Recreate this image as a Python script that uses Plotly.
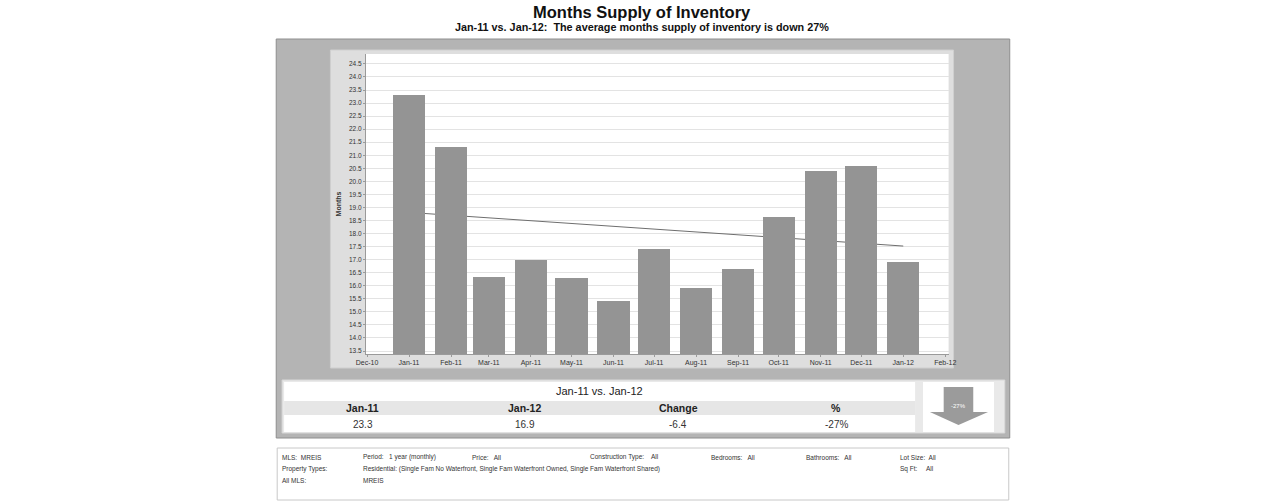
import numpy as np
import plotly.graph_objects as go

W, H = 1280, 503

# ---- data ----
months = ["2011-01-01", "2011-02-01", "2011-03-01", "2011-04-01", "2011-05-01", "2011-06-01",
          "2011-07-01", "2011-08-01", "2011-09-01", "2011-10-01", "2011-11-01", "2011-12-01",
          "2012-01-01"]
supply = [23.3, 21.3, 16.35, 17.0, 16.3, 15.4, 17.4, 15.9, 16.65, 18.65, 20.4, 20.6, 16.9]

tick_dates = ["2010-12-01"] + months + ["2012-02-01"]
tick_labels = ["Dec-10", "Jan-11", "Feb-11", "Mar-11", "Apr-11", "May-11", "Jun-11", "Jul-11",
               "Aug-11", "Sep-11", "Oct-11", "Nov-11", "Dec-11", "Jan-12", "Feb-12"]

y_ticks = [13.5 + 0.5 * i for i in range(23)]

cmp_headers = ["Jan-11", "Jan-12", "Change", "%"]
cmp_values = ["23.3", "16.9", "-6.4", "-27%"]
pct_change = "-27%"

footer_rows = [
    [("MLS:  MREIS", 274), ("Period:   1 year (monthly)", 356), ("Price:   All", 467),
     ("Construction Type:    All", 586), ("Bedrooms:   All", 709), ("Bathrooms:   All", 805),
     ("Lot Size:  All", 901)],
    [("Property Types:", 274),
     ("Residential: (Single Fam No Waterfront, Single Fam Waterfront Owned, Single Fam Waterfront Shared)", 356),
     ("Sq Ft:     All", 901)],
    [("All MLS:", 274), ("MREIS", 356)],
]

# ---- helpers ----
def px(x):
    return x / W

def py(y):
    return 1 - y / H

# trend line (least squares over the months)
idx = np.arange(len(supply))
slope, intercept = np.polyfit(idx, supply, 1)
trend = [intercept + slope * i for i in (idx[0], idx[-1])]

fig = go.Figure()
fig.add_trace(go.Bar(x=months, y=supply, marker=dict(color="#949494", line=dict(width=0)),
                     width=23.8 * 86400000, showlegend=False))

AXFONT = dict(family="Liberation Sans, Arial", size=6.5, color="#333333")

fig.update_layout(
    width=W, height=H,
    margin=dict(l=0, r=0, t=0, b=0),
    paper_bgcolor="white",
    plot_bgcolor="white",
    font=dict(family="Liberation Sans, Arial"),
    xaxis=dict(
        domain=[px(361), px(952)],
        type="date",
        range=["2010-11-30 04:00", "2012-02-03 12:00"],
        tickvals=tick_dates, ticktext=tick_labels,
        tickfont=dict(family="Liberation Sans, Arial", size=7, color="#333333"),
        showgrid=False, showline=True, linecolor="#9a9a9a", linewidth=1,
        ticks="outside", ticklen=2, tickcolor="#9a9a9a",
        fixedrange=True,
    ),
    yaxis=dict(
        domain=[py(354), py(54)],
        range=[13.385, 24.88],
        tickvals=y_ticks, ticktext=[f"{v:.1f}" for v in y_ticks],
        tickfont=AXFONT,
        showgrid=True, gridcolor="#e3e3e3", gridwidth=1,
        showline=True, linecolor="#9a9a9a", linewidth=1,
        ticks="outside", ticklen=2, tickcolor="#9a9a9a",
        zeroline=False,
        title=dict(text="<b>Months</b>", font=dict(size=7, color="#333333"), standoff=6),
        fixedrange=True,
    ),
    bargap=0,
)

shapes = []
def rect(x0, y0, x1, y1, fill, line=None, lw=0, layer="below"):
    shapes.append(dict(type="rect", xref="paper", yref="paper",
                       x0=px(x0), x1=px(x1), y0=py(y1), y1=py(y0),
                       fillcolor=fill, line=dict(color=line or fill, width=lw), layer=layer))

# outer gray frame
rect(270, 39, 1014, 438, "#b4b4b4", "#8e8e8e", 1)
# inner chart panel
rect(325, 50, 957, 368, "#dedede", "#cfcfcf", 1)
# plot area white
rect(361, 54, 952, 354, "#ffffff")
# comparison table panel
rect(276, 380, 1009, 433, "#e9e9e9", "#d8d8d8", 1)
rect(278, 382, 918, 432, "#ffffff")
rect(278, 401, 918, 415, "#e6e6e6")
rect(926, 382, 998, 432, "#ffffff")
# footer box
rect(271, 448, 1013, 500, "#ffffff", "#c8c8c8", 1)

# trend line behind the bars
shapes.append(dict(type="line", xref="x", yref="y", x0=months[0], x1=months[-1],
                   y0=trend[0], y1=trend[1], line=dict(color="#6e6e6e", width=1), layer="between"))

# down arrow
ax = [947, 977, 977, 992, 962, 933, 947]
ay = [387, 387, 412, 412, 425, 412, 412]
path = "M " + " L ".join(f"{px(a)},{py(b)}" for a, b in zip(ax, ay)) + " Z"
shapes.append(dict(type="path", xref="paper", yref="paper", path=path,
                   fillcolor="#9b9b9b", line=dict(width=0), layer="above"))

fig.update_layout(shapes=shapes)

ann = []
def text(t, x, y, size, color="#222222", xanchor="center", bold=False, family="Liberation Sans, Arial"):
    ann.append(dict(text=f"<b>{t}</b>" if bold else t, x=px(x), y=py(y), xref="paper", yref="paper",
                    showarrow=False, xanchor=xanchor, yanchor="middle",
                    font=dict(size=size, color=color, family=family)))

text("Months Supply of Inventory", 641, 12, 16.5, "#111111", bold=True)
text("Jan-11 vs. Jan-12:  The average months supply of inventory is down 27%", 641, 27, 10.8, "#111111", bold=True)

text("Jan-11 vs. Jan-12", 598, 391, 11, "#222222")
col_x = [358, 522, 678, 838]
for cx, h, v in zip(col_x, cmp_headers, cmp_values):
    text(h, cx, 408, 10.5, "#222222", bold=True)
    text(v, cx, 424, 10, "#333333")
text(pct_change, 962, 406, 6, "#ffffff")

for r, row in enumerate(footer_rows):
    for t, x in row:
        text(t, x, 457 + r * 11.5, 6.5, "#333333", xanchor="left")

fig.update_layout(annotations=ann)

fig.write_html("out.html")
